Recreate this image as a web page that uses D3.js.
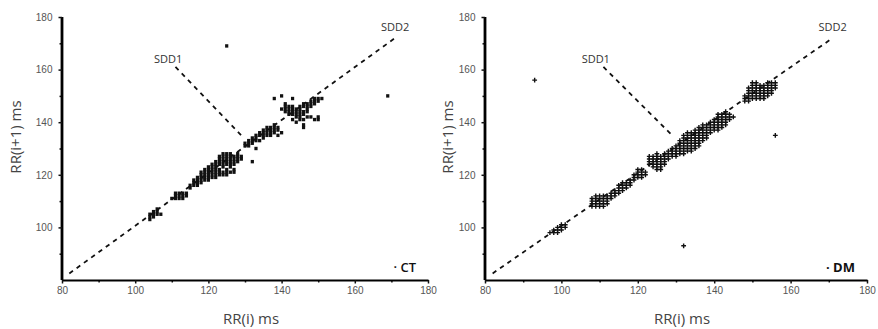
<!DOCTYPE html>
<html>
<head>
<meta charset="utf-8">
<script src="https://cdn.jsdelivr.net/npm/d3@7"></script>
<style>
  html, body { margin: 0; padding: 0; background: #fff; }
  svg { display: block; font-family: "Open Sans", sans-serif; }
  .tick text { fill: #555; font-size: 10px; }
  .tick line { stroke: #111; stroke-width: 1.5; }
</style>
</head>
<body>
<svg id="chart" width="878" height="329"></svg>
<script>
// tick values shared by both panels
const xTicks = [80, 100, 120, 140, 160, 180];
const yTicks = [100, 120, 140, 160, 180];
const minorTicks = [90, 110, 130, 150, 170];

// CT panel: columns of RR(i) with the RR(i+1) values
const ctColumns = [
  [104, [103, 104, 105]], [105, [104, 105, 106]], [106, [105, 106, 107]], [107, [105]],
  [110, [111]], [111, [111, 112, 113]], [112, [111, 112, 113]], [113, [111, 112, 113]], [114, [112, 113]],
  [115, [115, 116]], [116, [116, 117, 118]], [117, [116, 117, 118, 119]],
  [118, [117, 118, 119, 120, 121]], [119, [118, 119, 120, 121, 122]],
  [120, [118, 119, 120, 121, 122, 123]], [121, [119, 120, 121, 122, 123, 124]],
  [122, [119, 120, 121, 122, 123, 124, 125]], [123, [120, 121, 122, 124, 125, 126, 127]],
  [124, [120, 121, 123, 124, 125, 126, 127, 128]], [125, [120, 121, 122, 124, 125, 126, 127, 128, 169]],
  [126, [121, 123, 124, 125, 126, 127, 128]], [127, [121, 122, 124, 125, 126, 127]],
  [128, [125, 126, 127, 128]], [129, [126, 127]],
  [130, [131, 132]], [131, [131, 132, 133]], [132, [125, 132, 133, 134]], [133, [130, 133, 134, 135]],
  [134, [133, 135, 136]], [135, [134, 135, 136, 137]], [136, [135, 136, 137, 138]],
  [137, [135, 136, 137, 138]], [138, [136, 137, 138, 139, 149]], [139, [135, 137, 138]], [140, [136, 145, 150]],
  [141, [144, 145, 146, 147]], [142, [143, 144, 145, 146]], [143, [141, 143, 144, 145, 146, 149]],
  [144, [140, 142, 143, 144, 145]], [145, [141, 142, 143, 144, 145, 146]],
  [146, [138, 139, 141, 143, 144, 146, 147]], [147, [142, 144, 145, 146, 147]],
  [148, [142, 146, 147, 148]], [149, [141, 147, 148, 149]], [150, [141, 142, 148, 149]], [151, [149]],
  [169, [150]]
];

// DM panel
const dmColumns = [
  [93, [156]],
  [97, [98]], [98, [98, 99]], [99, [98, 99, 100]], [100, [99, 100, 101]], [101, [100, 101]],
  [108, [108, 109, 110, 111]], [109, [108, 109, 110, 111, 112]], [110, [108, 109, 110, 111, 112]],
  [111, [108, 109, 110, 111, 112]], [112, [109, 110, 111, 112]],
  [113, [111, 112, 113]], [114, [112, 113, 114]], [115, [113, 114, 115, 116]],
  [116, [114, 115, 116, 117]], [117, [115, 116, 117]], [118, [116, 117, 118]],
  [119, [118, 119, 120]], [120, [119, 120, 121, 122]], [121, [119, 120, 121, 122]], [122, [120, 121]],
  [123, [124, 125, 126, 127]], [124, [123, 124, 125, 126, 127]], [125, [122, 123, 124, 125, 126, 127, 128]],
  [126, [122, 123, 124, 125, 126, 127]], [127, [124, 125, 126, 127, 128]], [128, [126, 127, 128, 129]],
  [129, [127, 128, 129, 130]], [130, [127, 128, 129, 130, 131]], [131, [128, 129, 130, 131, 132, 133]],
  [132, [93, 128, 129, 130, 131, 132, 133, 134, 135]], [133, [129, 130, 131, 132, 133, 134, 135, 136]],
  [134, [129, 130, 131, 132, 133, 134, 135, 136]], [135, [130, 131, 132, 133, 134, 135, 136, 137]],
  [136, [131, 132, 133, 134, 135, 136, 137, 138]], [137, [133, 134, 135, 136, 137, 138, 139]],
  [138, [134, 135, 136, 137, 138, 139]], [139, [136, 137, 138, 139, 140]], [140, [137, 138, 139, 140, 141]],
  [141, [137, 138, 139, 140, 141, 142, 143]], [142, [138, 139, 140, 141, 142, 143]],
  [143, [139, 140, 141, 142, 143, 144]], [144, [141, 142, 143]], [145, [142]],
  [148, [148, 149, 150]], [149, [148, 149, 150, 151, 152, 153]], [150, [149, 150, 151, 152, 153, 154, 155]],
  [151, [149, 150, 151, 152, 153, 154, 155]], [152, [149, 150, 151, 152, 153, 154]],
  [153, [149, 150, 151, 152, 153, 154]], [154, [150, 151, 152, 153, 154, 155]],
  [155, [151, 152, 153, 154, 155]], [156, [135, 153, 154, 155]]
];

// dashed guide lines (data units) and their labels
const sdd1Line = [[111, 161], [129, 135]];
const sdd2Line = [[82, 82.5], [171, 172]];
const sdd1Label = [109, 162.5];
const sdd2Label = [171, 174.5];

const panels = [
  { columns: ctColumns, left: 62, right: 428, yLabel: "RR(i+1) ms", yLabelX: 15, tag: "CT", tagWeight: 600, marker: "square" },
  { columns: dmColumns, left: 485, right: 867, yLabel: "RR(i+1) ms", yLabelX: 447, tag: "DM", tagWeight: 700, marker: "cross" },
];

const svg = d3.select("#chart");
const plotTop = 17, plotBottom = 280;

panels.forEach((panel) => {
  const points = panel.columns.flatMap(([rx, ys]) => ys.map((ry) => [rx, ry]));
  const x = d3.scaleLinear().domain([80, 180]).range([panel.left, panel.right]);
  const y = d3.scaleLinear().domain([80, 180]).range([plotBottom, plotTop]);
  const g = svg.append("g");

  // minor ticks
  g.append("g").attr("transform", `translate(0,${plotBottom})`)
    .call(d3.axisBottom(x).tickValues(minorTicks).tickSize(2.5).tickFormat(""))
    .call((a) => a.select(".domain").remove());
  g.append("g").attr("transform", `translate(${panel.left},0)`)
    .call(d3.axisLeft(y).tickValues(minorTicks).tickSize(2.5).tickFormat(""))
    .call((a) => a.select(".domain").remove());

  // major ticks + labels
  g.append("g").attr("transform", `translate(0,${plotBottom})`)
    .call(d3.axisBottom(x).tickValues(xTicks).tickSize(3.5).tickPadding(3).tickSizeOuter(0))
    .call((a) => a.select(".domain").attr("stroke", "#000").attr("stroke-width", 2.2));
  g.append("g").attr("transform", `translate(${panel.left},0)`)
    .call(d3.axisLeft(y).tickValues(yTicks).tickSize(3.5).tickPadding(6).tickSizeOuter(0))
    .call((a) => a.select(".domain").attr("stroke", "#000").attr("stroke-width", 2.8)
      .attr("d", `M0,${plotBottom}V${plotTop}`));

  // dashed lines
  const line = d3.line().x((d) => x(d[0])).y((d) => y(d[1]));
  [sdd1Line, sdd2Line].forEach((seg) => {
    g.append("path").attr("d", line(seg)).attr("fill", "none")
      .attr("stroke", "#111").attr("stroke-width", 1.8).attr("stroke-dasharray", "4.5,4.5");
  });

  // points
  if (panel.marker === "square") {
    g.append("g").selectAll("rect").data(points).enter().append("rect")
      .attr("x", (d) => x(d[0]) - 1.6).attr("y", (d) => y(d[1]) - 1.7)
      .attr("width", 3.2).attr("height", 3.4).attr("fill", "#111");
  } else {
    g.append("g").selectAll("path").data(points).enter().append("path")
      .attr("d", (d) => `M${x(d[0]) - 2.4},${y(d[1])}h4.8M${x(d[0])},${y(d[1]) - 2.4}v4.8`)
      .attr("stroke", "#111").attr("stroke-width", 1.4).attr("fill", "none");
  }

  // labels
  g.append("text").attr("x", x(sdd1Label[0])).attr("y", y(sdd1Label[1]))
    .attr("text-anchor", "middle").attr("font-size", 11).attr("fill", "#333").text("SDD1");
  g.append("text").attr("x", x(sdd2Label[0])).attr("y", y(sdd2Label[1]))
    .attr("text-anchor", "middle").attr("font-size", 11).attr("fill", "#333").text("SDD2");

  g.append("text").attr("x", panel.right - 12).attr("y", plotBottom - 8)
    .attr("text-anchor", "end").attr("font-size", 13).attr("font-weight", panel.tagWeight)
    .attr("fill", "#111").text("· " + panel.tag);

  g.append("text").attr("x", (panel.left + panel.right) / 2 + 6).attr("y", 324)
    .attr("text-anchor", "middle").attr("font-size", 15).attr("fill", "#444").text("RR(i) ms");
  g.append("text").attr("transform", `translate(${panel.yLabelX},137) rotate(-90)`)
    .attr("text-anchor", "middle").attr("dominant-baseline", "central")
    .attr("font-size", 15).attr("fill", "#444").text(panel.yLabel);
});
</script>
</body>
</html>
